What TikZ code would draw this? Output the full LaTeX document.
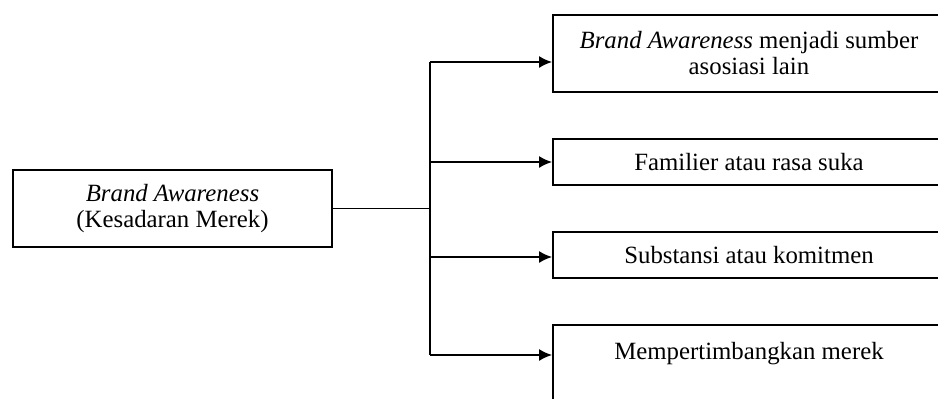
\documentclass[tikz,border=0pt]{standalone}
\usepackage{fontspec}
\setmainfont{Liberation Serif}
\usetikzlibrary{arrows.meta}
\begin{document}
\begin{tikzpicture}[
    x=1pt, y=-1pt,
    box/.style={rectangle, draw, line width=1.8pt, minimum width=319pt, minimum height=77pt, inner sep=0pt, font=\fontsize{24.8}{26}\selectfont, align=center},
    item/.style={box, minimum width=392pt, minimum height=46pt},
    arrow/.style={-{Latex[length=13pt,width=12pt]}, line width=1.8pt}
]
\useasboundingbox (0,0) rectangle (938,399);
\clip (0,0) rectangle (938,399);

% Source
\node[box] (awareness) at (172.5,208.5) {\textit{Brand Awareness}\\(Kesadaran Merek)};

% Levels
\node[item, minimum height=77pt] (asosiasi) at (749,53.5) {\textit{Brand Awareness} menjadi sumber\\asosiasi lain};
\node[item] (familier) at (749,162) {Familier atau rasa suka};
\node[item] (substansi) at (749,255) {Substansi atau komitmen};
\node[item, minimum height=77pt] (pertimbang) at (749,363.5) {Mempertimbangkan merek\\~};

% Branching
\coordinate (split) at (430,208.5);
\coordinate (top) at (430,62);
\coordinate (third) at (430,257);
\coordinate (bottom) at (430,355);

\draw[line width=1.8pt] (awareness.east) -- (split);
\draw[line width=1.8pt] (top) -- (bottom);
\draw[arrow] (top) -- (asosiasi.west |- top);
\draw[arrow] (split |- familier) -- (familier.west);
\draw[arrow] (third) -- (substansi.west |- third);
\draw[arrow] (bottom) -- (pertimbang.west |- bottom);

\end{tikzpicture}
\end{document}
